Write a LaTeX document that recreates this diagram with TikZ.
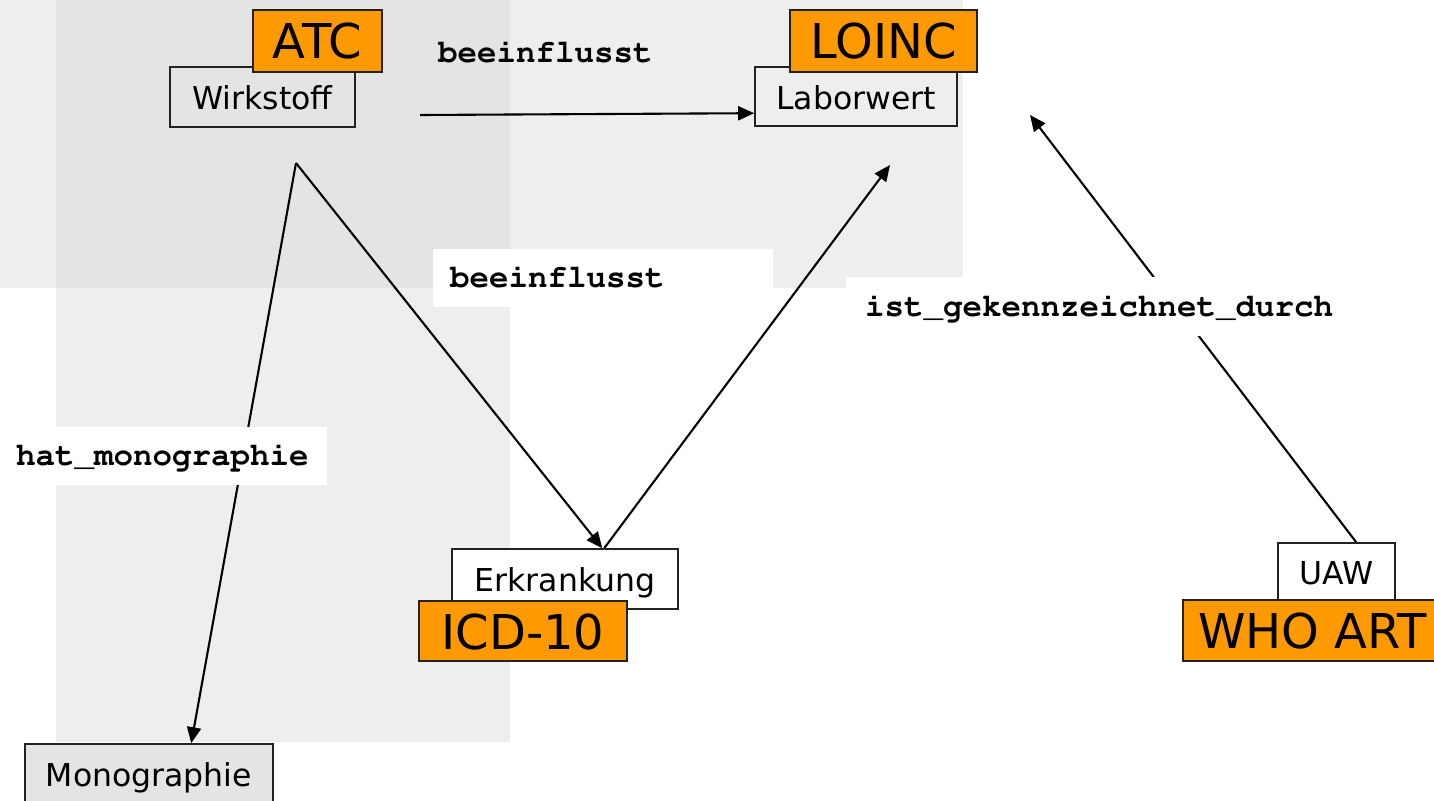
\documentclass[tikz,border=0pt]{standalone}
\usepackage[T1,TU]{fontenc}
\usepackage{fontspec}
\setmainfont{DejaVu Sans}
\newcommand\labelmono{\fontencoding{T1}\fontfamily{pcr}\fontseries{b}\selectfont}
\usetikzlibrary{arrows.meta}

\definecolor{regionlight}{HTML}{EEEEEE}
\definecolor{regiondark}{HTML}{E4E4E4}
\definecolor{termorange}{HTML}{FF9900}
\definecolor{boxline}{HTML}{222222}
\definecolor{monofill}{HTML}{E4E4E4}

\pgfdeclarelayer{bg}
\pgfdeclarelayer{edges}
\pgfsetlayers{bg,edges,main}

\tikzset{
  concept/.style={draw=boxline, line width=1.6pt, inner sep=0pt,
    font=\fontsize{31.5}{36}\selectfont, text height=27pt, text depth=2pt},
  vocab/.style={draw=boxline, fill=termorange, line width=1.6pt, inner sep=0pt,
    font=\fontsize{48}{56}\selectfont, text height=37pt, text depth=1pt},
  rel/.style={inner sep=0pt, text height=22pt, text depth=3pt,
    font={\fontsize{32.5}{38}\labelmono}},
  relbox/.style={rel, fill=white, align=left, inner ysep=0pt},
  link/.style={draw=black, line width=2.1pt, -{Triangle[length=16pt,width=14pt]}}
}

\begin{document}
\begin{tikzpicture}[x=1pt,y=-1pt]
\useasboundingbox (0,0) rectangle (1434,800);

% shaded areas behind the diagram
\begin{pgfonlayer}{bg}
  \fill[regionlight] (0,0) rectangle (963,288);
  \fill[regionlight] (56,0) rectangle (510,742);
  \fill[regiondark] (56,0) rectangle (510,288);
\end{pgfonlayer}

% concepts with their vocabularies
\node[concept, minimum width=185pt, minimum height=60pt] (wirk) at (262.5,97) {Wirkstoff};
\node[vocab, minimum width=129pt, minimum height=62pt] (atc) at (317.5,41) {ATC};

\node[concept, minimum width=202pt, minimum height=59pt] (labor) at (856,96.5) {Laborwert};
\node[vocab, minimum width=187pt, minimum height=62pt] (loinc) at (883.5,41) {LOINC};

\node[concept, fill=white, minimum width=226pt, minimum height=60pt] (erk) at (565,579) {Erkrankung};
\node[vocab, minimum width=208pt, minimum height=60pt] (icd) at (523,631) {ICD-10};

\node[concept, fill=white, minimum width=117pt, minimum height=57pt] (uaw) at (1336.5,571.5) {UAW};
\node[vocab, minimum width=259pt, minimum height=61pt] (who) at (1312.5,630.5) {WHO ART};

\node[concept, fill=monofill, minimum width=248pt, minimum height=60pt] (mono) at (149,774) {Monographie};

% free ends of the connectors
\coordinate (srcW) at (420,115);
\coordinate (apex) at (296,163);
\coordinate (tipL) at (890,165);
\coordinate (tipU) at (1030,115);

% relations
\begin{pgfonlayer}{edges}
  \draw[link] (srcW) -- ([yshift=-47pt]labor.north west);
  \draw[link] (apex) -- ([xshift=167pt]mono.north west);
  \draw[link] (apex) -- ([xshift=151pt]erk.north west);
  \draw[link] ([xshift=153pt]erk.north west) -- (tipL);
  \draw[link] ([xshift=79pt]uaw.north west) -- (tipU);
\end{pgfonlayer}

% relation labels
\node[rel, anchor=base west] (infl1) at (438,63) {beeinflusst};
\node[relbox, anchor=north west, text width=306pt, inner xsep=17pt, minimum height=58pt] (infl2) at (433,249) {beeinflusst};
\node[relbox, anchor=north west, text width=295pt, inner xsep=16pt, minimum height=58pt] (hatmono) at (0,427) {hat\_monographie};
\node[relbox, anchor=north west, text width=470pt, inner xsep=19pt, minimum height=59pt] (istgek) at (846,277) {ist\_gekennzeichnet\_durch};
\end{tikzpicture}
\end{document}
